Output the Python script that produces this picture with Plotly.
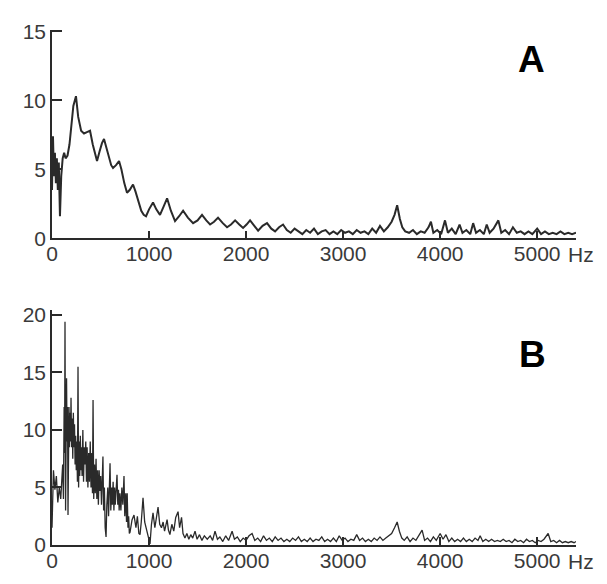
import plotly.graph_objects as go

# ---------------- data ----------------
a_freq = [0, 10, 20, 30, 40, 50, 60, 70, 82, 95, 110, 125, 140, 160, 180, 200, 220, 247, 270, 300,
          330, 360, 392, 420, 445, 464, 490, 515, 536, 560, 590, 610, 629, 660, 691, 715, 745, 773, 800, 835,
          860, 890, 920, 945, 969, 1000, 1041, 1075, 1113, 1150, 1186, 1225, 1268, 1310, 1351, 1400, 1454, 1500, 1546, 1590,
          1629, 1670, 1711, 1760, 1804, 1845, 1887, 1930, 1969, 2005, 2041, 2085, 2124, 2170, 2216, 2260, 2299, 2340, 2381, 2420,
          2460, 2500, 2540, 2580, 2620, 2660, 2700, 2740, 2780, 2820, 2860, 2900, 2940, 2980, 3020, 3060, 3100, 3140, 3180, 3220,
          3260, 3300, 3340, 3380, 3420, 3460, 3500, 3530, 3557, 3585, 3610, 3640, 3680, 3720, 3760, 3800, 3840, 3880, 3905, 3930,
          3970, 4010, 4050, 4080, 4120, 4160, 4200, 4230, 4270, 4310, 4340, 4370, 4410, 4450, 4480, 4510, 4550, 4600, 4630, 4670,
          4710, 4750, 4790, 4830, 4870, 4910, 4950, 5000, 5040, 5080, 5120, 5160, 5200, 5240, 5280, 5320, 5360, 5400]
a_amp = [3.5, 7.4, 4.5, 6.2, 4.0, 5.8, 3.5, 5.5, 1.6, 4.5, 5.8, 6.2, 5.8, 6.0, 6.8, 8.5, 9.6, 10.3, 8.8, 7.8,
         7.6, 7.7, 7.8, 6.8, 6.0, 5.6, 6.3, 6.9, 7.2, 6.6, 5.8, 5.3, 5.1, 5.3, 5.6, 5.0, 4.0, 3.3, 3.5, 3.9,
         3.4, 2.6, 2.0, 1.7, 1.6, 2.1, 2.6, 2.1, 1.7, 2.3, 2.9, 2.0, 1.25, 1.6, 2.0, 1.5, 1.1, 1.3, 1.7, 1.3,
         1.0, 1.2, 1.5, 1.1, 0.8, 1.0, 1.3, 1.0, 0.75, 1.0, 1.3, 0.9, 0.55, 0.9, 1.1, 0.7, 0.5, 0.8, 1.0, 0.6,
         0.4, 0.7, 0.5, 0.3, 0.6, 0.4, 0.7, 0.3, 0.5, 0.6, 0.3, 0.5, 0.3, 0.6, 0.4, 0.5, 0.3, 0.6, 0.4, 0.5,
         0.3, 0.7, 0.4, 0.9, 0.5, 0.8, 1.2, 1.7, 2.4, 1.4, 0.8, 0.5, 0.4, 0.6, 0.3, 0.5, 0.4, 0.8, 1.2, 0.4,
         0.6, 0.3, 1.3, 0.4, 0.7, 0.3, 1.0, 0.4, 0.6, 0.3, 1.1, 0.4, 0.6, 0.3, 1.0, 0.4, 0.7, 1.3, 0.4, 0.6,
         0.3, 0.8, 0.4, 0.5, 0.3, 0.5, 0.3, 0.7, 0.3, 0.5, 0.3, 0.4, 0.3, 0.5, 0.3, 0.4, 0.3, 0.4]

b_freq = [0, 15, 30, 45, 60, 75, 90, 100, 110, 118, 125, 130, 134, 140, 145, 150, 155, 160, 165, 170,
          175, 180, 186, 191, 196, 202, 208, 214, 220, 226, 232, 238, 244, 250, 256, 262, 268, 274, 280, 286,
          292, 298, 304, 310, 318, 325, 332, 340, 348, 355, 362, 370, 378, 386, 394, 402, 410, 417, 423, 430,
          438, 446, 454, 462, 470, 478, 486, 494, 502, 510, 518, 525, 532, 540, 548, 557, 565, 575, 583, 590,
          598, 606, 615, 622, 630, 638, 645, 652, 660, 670, 678, 685, 692, 700, 710, 720, 730, 742, 750, 760,
          768, 775, 783, 790, 797, 804, 825, 845, 865, 880, 895, 907, 920, 938, 955, 979, 995, 1010, 1025, 1041,
          1060, 1075, 1093, 1110, 1128, 1145, 1160, 1186, 1200, 1215, 1235, 1255, 1275, 1299, 1315, 1335, 1350, 1370, 1390, 1410,
          1430, 1450, 1474, 1495, 1520, 1545, 1570, 1600, 1630, 1655, 1680, 1705, 1730, 1760, 1790, 1820, 1856, 1880, 1910, 1940,
          1970, 2000, 2030, 2062, 2090, 2120, 2150, 2180, 2210, 2240, 2270, 2300, 2330, 2360, 2390, 2420, 2450, 2480, 2510, 2540,
          2570, 2600, 2630, 2660, 2690, 2720, 2750, 2780, 2810, 2840, 2870, 2900, 2930, 2960, 2990, 3020, 3050, 3080, 3110, 3140,
          3170, 3200, 3230, 3260, 3290, 3320, 3350, 3380, 3410, 3440, 3470, 3500, 3530, 3557, 3580, 3605, 3630, 3660, 3690, 3720,
          3750, 3780, 3814, 3840, 3870, 3900, 3930, 3960, 4000, 4030, 4060, 4090, 4120, 4150, 4180, 4210, 4240, 4270, 4300, 4330,
          4360, 4390, 4412, 4440, 4470, 4500, 4530, 4560, 4590, 4620, 4650, 4680, 4710, 4740, 4770, 4800, 4830, 4860, 4890, 4920,
          4950, 4980, 5010, 5040, 5070, 5113, 5140, 5170, 5200, 5230, 5260, 5290, 5320, 5350, 5380, 5400]
b_amp = [1.5, 6.5, 4.8, 6.0, 3.7, 5.0, 4.0, 5.5, 7.0, 4.0, 12.0, 8.0, 19.4, 3.0, 10.0, 14.5, 9.0, 12.0, 2.6, 9.5,
         12.0, 8.5, 11.5, 9.0, 12.8, 8.5, 11.0, 7.5, 11.5, 8.5, 10.5, 7.0, 9.5, 6.5, 9.0, 5.5, 15.5, 5.0, 9.0, 6.0,
         9.5, 6.5, 8.5, 6.0, 10.0, 5.5, 8.5, 7.0, 9.0, 5.5, 8.5, 5.0, 8.0, 5.5, 9.0, 5.0, 8.0, 4.5, 12.6, 4.0,
         7.0, 4.5, 7.5, 4.0, 6.5, 3.5, 6.5, 4.7, 6.0, 3.5, 6.5, 7.7, 3.0, 5.0, 1.5, 0.7, 3.5, 5.0, 2.5, 5.5,
         7.1, 3.0, 5.0, 3.5, 5.5, 3.0, 5.0, 3.5, 5.5, 6.1, 3.5, 4.8, 3.0, 4.5, 3.0, 5.0, 3.5, 6.0, 2.5, 4.5,
         2.0, 4.5, 1.5, 2.5, 1.0, 1.1, 2.2, 2.6, 1.5, 2.5, 1.0, 0.9, 2.0, 4.1, 2.0, 1.2, 0.5, 0.1, 1.8, 2.8,
         1.5, 2.2, 3.3, 1.8, 1.5, 2.0, 1.2, 2.2, 1.3, 0.9, 1.8, 1.2, 2.4, 2.9, 1.5, 2.4, 1.0, 0.6, 1.0, 0.5,
         0.9, 0.6, 1.2, 0.5, 0.9, 0.4, 0.8, 0.5, 0.8, 0.4, 1.2, 0.5, 0.7, 0.3, 0.8, 0.4, 1.2, 0.5, 0.7, 0.3,
         0.6, 0.4, 0.8, 1.0, 0.4, 0.6, 0.3, 0.8, 0.4, 0.6, 0.3, 0.7, 0.4, 0.6, 0.3, 0.5, 0.3, 0.6, 0.4, 0.7,
         0.3, 0.5, 0.3, 0.6, 0.3, 0.5, 0.4, 0.7, 0.3, 0.5, 0.3, 0.6, 0.3, 0.8, 0.4, 0.6, 0.3, 0.5, 0.4, 0.9,
         0.4, 0.6, 0.3, 0.5, 0.3, 0.6, 0.4, 0.7, 0.4, 0.6, 0.8, 1.0, 1.5, 2.0, 1.2, 0.6, 0.4, 0.7, 0.3, 0.6,
         0.4, 0.8, 1.3, 0.4, 0.6, 0.3, 0.7, 0.4, 1.0, 0.5, 0.9, 0.3, 0.6, 0.3, 0.5, 0.3, 0.6, 0.3, 0.5, 0.3,
         0.6, 0.4, 0.8, 0.3, 0.5, 0.3, 0.5, 0.3, 0.4, 0.3, 0.5, 0.3, 0.4, 0.2, 0.5, 0.3, 0.4, 0.2, 0.5, 0.3,
         0.4, 0.2, 0.4, 0.3, 0.5, 1.0, 0.3, 0.4, 0.2, 0.4, 0.2, 0.3, 0.2, 0.3, 0.2, 0.3]

x_tickvals = [0, 1000, 2000, 3000, 4000, 5000]
x_ticktext = ["0", "1000", "2000", "3000", "4000", "5000"]
a_yticks = [0, 5, 10, 15]
b_yticks = [0, 5, 10, 15, 20]
panel_labels = ["A", "B"]
unit_label = "Hz"

# ---------------- figure ----------------
INK = "#2a2a2a"
TXT = "#3a3a3a"
FONT = "Arial, Liberation Sans, sans-serif"

# page body has an 8px default margin: build the figure 8px smaller
W, H = 599, 576
L, R, T, B = 44, 31, 14, 33
PW, PH = W - L - R, H - T - B

def px_to_paper(px, py):
    return (px - L) / PW, (H - B - py) / PH

fig = go.Figure()
fig.add_trace(go.Scatter(x=a_freq, y=a_amp, mode="lines",
                         line=dict(color=INK, width=2.0), xaxis="x", yaxis="y",
                         showlegend=False, cliponaxis=False))
fig.add_trace(go.Scatter(x=b_freq, y=b_amp, mode="lines",
                         line=dict(color=INK, width=1.3), xaxis="x2", yaxis="y2",
                         showlegend=False, cliponaxis=False))

common_x = dict(range=[0, 5400], tickvals=x_tickvals, ticktext=x_ticktext,
                showline=True, linecolor=INK, linewidth=1.5, ticks="inside",
                ticklen=8, tickcolor=INK, tickwidth=1.5, showgrid=False, zeroline=False,
                ticklabelstandoff=-4,
                tickfont=dict(family=FONT, size=21, color=TXT))
common_y = dict(showline=True, linecolor=INK, linewidth=1.5, ticks="inside",
                ticklen=10, tickcolor=INK, tickwidth=1.5, showgrid=False, zeroline=False,
                tickfont=dict(family=FONT, size=21, color=TXT))

ax, ay = px_to_paper(523, 44)
bx, by = px_to_paper(524, 347)

fig.update_layout(
    width=W, height=H,
    margin=dict(l=L, r=R, t=T, b=B),
    paper_bgcolor="white", plot_bgcolor="white",
    xaxis=dict(domain=[0, 1], anchor="y", **common_x),
    yaxis=dict(domain=[0.5955, 1.0], anchor="x", range=[0, 15.1], tickvals=a_yticks, **common_y),
    xaxis2=dict(domain=[0, 1], anchor="y2", **common_x),
    yaxis2=dict(domain=[0.0, 0.4556], anchor="x2", range=[0, 20.4], tickvals=b_yticks, **common_y),
    annotations=[
        dict(x=5000, y=0, xref="x", yref="y", text=unit_label, showarrow=False,
             xanchor="left", yanchor="top", xshift=29, yshift=-3,
             font=dict(family=FONT, size=21, color=TXT)),
        dict(x=5000, y=0, xref="x2", yref="y2", text=unit_label, showarrow=False,
             xanchor="left", yanchor="top", xshift=29, yshift=-3,
             font=dict(family=FONT, size=21, color=TXT)),
        dict(x=ax, y=ay, xref="paper", yref="paper", text="<b>%s</b>" % panel_labels[0],
             xanchor="center", yanchor="middle", showarrow=False,
             font=dict(family=FONT, size=37, color="black")),
        dict(x=bx, y=by, xref="paper", yref="paper", text="<b>%s</b>" % panel_labels[1],
             xanchor="center", yanchor="middle", showarrow=False,
             font=dict(family=FONT, size=37, color="black")),
    ],
)

fig.write_html("out.html")
